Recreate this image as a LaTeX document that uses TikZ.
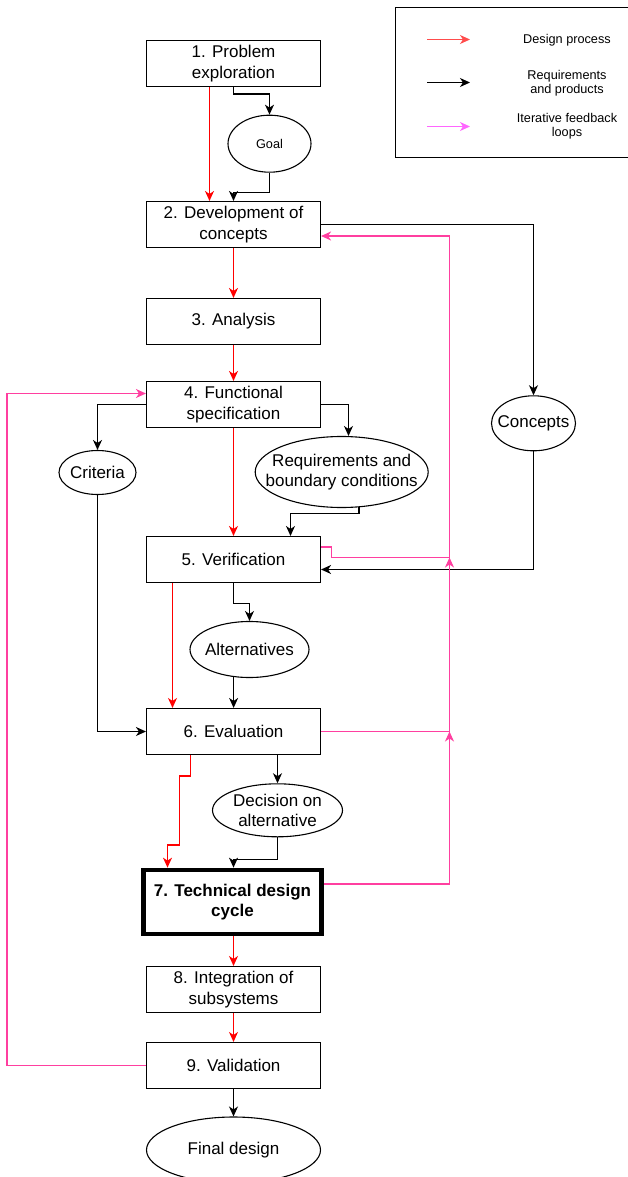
\documentclass[tikz,border=0pt]{standalone}
\usepackage{fontspec}
\setmainfont{Liberation Sans}
\usetikzlibrary{arrows.meta,shapes.geometric}

\definecolor{flowred}{HTML}{FF0000}
\definecolor{loopcol}{HTML}{FF3FA0}
\definecolor{legred}{HTML}{FF4C4C}
\definecolor{legpink}{HTML}{FF66FF}

\newcommand{\bigtxt}{\fontsize{17}{20.3}\selectfont}
\newcommand{\smalltxt}{\fontsize{12.7}{14.5}\selectfont}

\begin{document}
\begin{tikzpicture}[x=1pt,y=-1pt,>={Stealth[length=10pt,width=9pt,inset=3pt]},
  procbox/.style={draw, line width=1.1pt, minimum width=174pt, minimum height=46pt,
    inner sep=2pt, align=center, font=\bigtxt},
  outbox/.style={draw, ellipse, line width=1.1pt, inner sep=0pt},
  outtxt/.style={align=center, font=\bigtxt},
  redflow/.style={->, flowred, line width=1.2pt},
  reqflow/.style={->, black, line width=1.2pt},
  loopline/.style={loopcol, line width=1.2pt},
  loopflow/.style={->, loopline}]
  \useasboundingbox (0,0) rectangle (628,1177);

  % Legend
  \draw[line width=1.1pt] (395.5,7.5) rectangle (632,157.5);
  \coordinate (lr1) at (427,39.5);  \coordinate (lr2) at (470,39.5);
  \coordinate (lb1) at (427,82.5);  \coordinate (lb2) at (470,82.5);
  \coordinate (lp1) at (427,126.5); \coordinate (lp2) at (470,126.5);
  \draw[->, legred, line width=1.2pt] (lr1) -- (lr2);
  \draw[->, black, line width=1.2pt] (lb1) -- (lb2);
  \draw[->, legpink, line width=1.2pt] (lp1) -- (lp2);
  \node[font=\smalltxt] (legdes) at (567,40) {Design process};
  \node[font=\smalltxt, align=center] (legreq) at (567,83) {Requirements\\and products};
  \node[font=\smalltxt, align=center] (legloop) at (567,126) {Iterative feedback\\loops};

  % Process steps
  \node[procbox] (b1) at (233.5,63.5) {1. Problem\\exploration};
  \node[procbox] (b2) at (233.5,224.5) {2. Development of\\concepts};
  \node[procbox] (b3) at (233.5,321.5) {3. Analysis};
  \node[procbox] (b4) at (233.5,404.5) {4. Functional\\specification};
  \node[procbox] (b5) at (233.5,559.5) {5. Verification};
  \node[procbox] (b6) at (233.5,731.5) {6. Evaluation};
  \node[procbox, line width=4.7pt, minimum width=178pt, minimum height=64pt,
    font=\bigtxt\bfseries] (b7) at (232.5,902) {7. Technical design\\cycle};
  \node[procbox] (b8) at (233.5,989.5) {8. Integration of\\subsystems};
  \node[procbox] (b9) at (233.5,1065.5) {9. Validation};

  % Products
  \node[outbox, minimum width=83pt, minimum height=57pt,
    label={[outtxt, font=\smalltxt]center:Goal}] (goal) at (269.5,143.7) {};
  \node[outbox, minimum width=84pt, minimum height=55pt,
    label={[outtxt]center:Concepts}] (concepts) at (533.5,423.3) {};
  \node[outbox, minimum width=77pt, minimum height=44pt,
    label={[outtxt]center:Criteria}] (criteria) at (97.5,472.5) {};
  \node[outbox, minimum width=173pt, minimum height=71pt,
    label={[outtxt]center:Requirements and\\boundary conditions}] (reqs) at (341.7,472) {};
  \node[outbox, minimum width=119pt, minimum height=56pt,
    label={[outtxt]center:Alternatives}] (alts) at (249.5,649.5) {};
  \node[outbox, minimum width=130pt, minimum height=53pt,
    label={[outtxt]center:Decision on\\alternative}] (decision) at (277.5,810.3) {};
  \node[outbox, minimum width=174pt, minimum height=66pt,
    label={[outtxt]center:Final design}] (final) at (233.5,1150) {};

  % Design process
  \draw[redflow] ([xshift=-24pt]b1.south) -- ([xshift=-24pt]b2.north);
  \draw[redflow] (b2) -- (b3);
  \draw[redflow] (b3) -- (b4);
  \draw[redflow] (b4) -- (b5);
  \draw[redflow] ([xshift=-61pt]b5.south) -- ([xshift=-61pt]b6.north);
  \draw[redflow] ([xshift=-43pt]b6.south) |- (179.5,776) |- (167.5,845)
    -- ([xshift=-65pt]b7.north);
  \draw[redflow] (b8.north |- b7.south) -- (b8.north);
  \draw[redflow] (b8) -- (b9);

  % Requirements and products
  \draw[reqflow] (b1.south) -- ++(0,7) -| (goal.north);
  \draw[reqflow] (goal.south) -- ++(0,19.4) -| (b2.north);
  \draw[reqflow] (b2.east) -| (concepts.north);
  \draw[reqflow] (concepts.south) |- ([yshift=-10pt]b5.east);
  \draw[reqflow] (b4.west) -| (criteria.north);
  \draw[reqflow] (criteria.south) |- (b6.west);
  \draw[reqflow] (b4.east) -| ([xshift=6.8pt]reqs.north);
  \draw[reqflow] (reqs.-64.5) -- ++(0,6.5) -| ([xshift=57pt]b5.north);
  \draw[reqflow] (b5.south) -- ++(0,20.5) -| (alts.north);
  \draw[reqflow] (alts.-120) -- (alts.-120 |- b6.north);
  \draw[reqflow] (decision.north |- b6.south) -- (decision.north);
  \draw[reqflow] (decision.south) -- ++(0,22.3) -| ([xshift=1pt]b7.north);
  \draw[reqflow] (b9) -- (final);

  % Iterative feedback loops
  \coordinate (j6) at (449.5,731.5);
  \coordinate (j5) at (449.5,557.5);
  \draw[loopflow] ([yshift=18pt]b7.east) -| (j6);
  \draw[loopline] (b6.east) -- (j6);
  \draw[loopflow] (j6) -- (j5);
  \draw[loopline] ([yshift=12.5pt]b5.east) -- ++(10.5,0) |- (j5);
  \draw[loopflow] (j5) |- ([yshift=-11.5pt]b2.east);
  \draw[loopflow] (b9.west) -- ++(-139,0) |- ([yshift=11pt]b4.west);
\end{tikzpicture}
\end{document}
